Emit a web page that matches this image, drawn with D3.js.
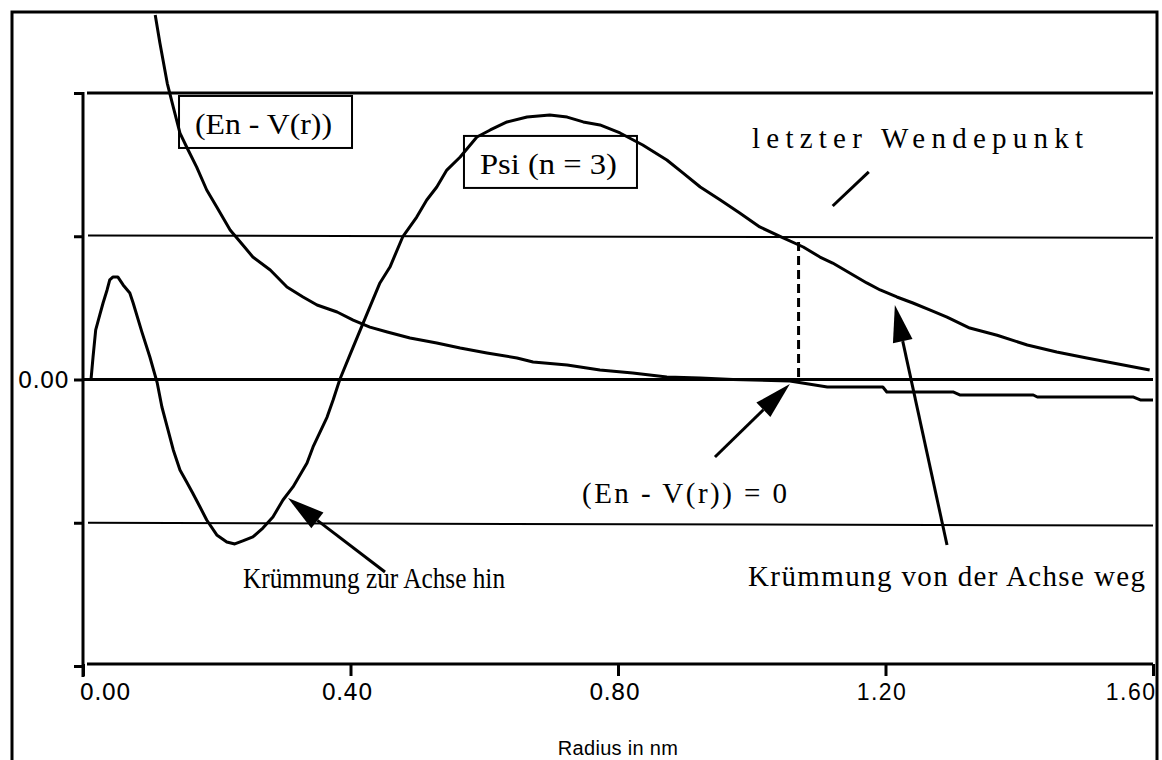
<!DOCTYPE html>
<html>
<head>
<meta charset="utf-8">
<script src="https://cdn.jsdelivr.net/npm/d3@7/dist/d3.min.js"></script>
<style>
	body { margin: 0; background: #fff; }
	svg { display: block; }
	.serif { font-family: 'Liberation Serif', 'Times New Roman', serif; }
</style>
</head>
<body>
<div id="chart"></div>
<script>
// ticks
var radiusTicks = [0, 0.4, 0.8, 1.2, 1.6]
var levelTicks = [-2, -1, 0, 1, 2]

// Psi (n = 3)
var psiR = [0.012, 0.015, 0.019, 0.025, 0.030, 0.036, 0.040, 0.045, 0.052, 0.060, 0.070, 0.075, 0.088, 0.100,
	0.111, 0.118, 0.126, 0.135, 0.145, 0.155, 0.164, 0.175, 0.185, 0.200, 0.215, 0.227, 0.239, 0.254, 0.269,
	0.284, 0.299, 0.314, 0.335, 0.344, 0.365, 0.374, 0.384, 0.399, 0.419, 0.444, 0.459, 0.478, 0.499, 0.514,
	0.529, 0.544, 0.564, 0.589, 0.609, 0.634, 0.664, 0.698, 0.724, 0.748, 0.773, 0.803, 0.837, 0.873, 0.897,
	0.923, 0.953, 0.982, 1.012, 1.047, 1.077, 1.102, 1.121, 1.172, 1.192, 1.217, 1.241, 1.267, 1.292, 1.326,
	1.367, 1.412, 1.456, 1.501, 1.540, 1.595]
var psiVal = [0, 0.157, 0.346, 0.450, 0.534, 0.625, 0.695, 0.716, 0.716, 0.660, 0.604, 0.534, 0.332, 0.157,
	-0.024, -0.192, -0.332, -0.492, -0.632, -0.716, -0.792, -0.890, -0.981, -1.085, -1.134, -1.148, -1.127, -1.099, -1.037,
	-0.960, -0.841, -0.750, -0.583, -0.471, -0.262, -0.143, 0, 0.170, 0.395, 0.674, 0.785, 0.995, 1.134, 1.253,
	1.344, 1.462, 1.553, 1.693, 1.742, 1.798, 1.832, 1.846, 1.832, 1.798, 1.777, 1.721, 1.637, 1.532, 1.442,
	1.344, 1.253, 1.162, 1.065, 0.988, 0.925, 0.855, 0.813, 0.674, 0.625, 0.576, 0.534, 0.485, 0.436, 0.359,
	0.309, 0.241, 0.192, 0.150, 0.115, 0.066]

// En - V(r)
var enR = [0.108, 0.115, 0.126, 0.135, 0.145, 0.155, 0.170, 0.185, 0.200, 0.220, 0.239, 0.254, 0.280, 0.305,
	0.329, 0.350, 0.380, 0.404, 0.429, 0.455, 0.489, 0.529, 0.564, 0.604, 0.649, 0.673, 0.724, 0.773, 0.822,
	0.873, 0.923, 0.972, 1.057, 1.113, 1.196, 1.202, 1.301, 1.311, 1.421, 1.427, 1.570, 1.581, 1.600]
var enVal = [2.545, 2.349, 2.068, 1.902, 1.720, 1.623, 1.483, 1.323, 1.204, 1.044, 0.939, 0.855, 0.764, 0.646,
	0.576, 0.520, 0.471, 0.415, 0.366, 0.332, 0.290, 0.255, 0.220, 0.185, 0.150, 0.122, 0.101, 0.066, 0.045,
	0.017, 0.010, 0.0, -0.01, -0.052, -0.052, -0.087, -0.087, -0.108, -0.108, -0.122, -0.122, -0.143, -0.143]

// horizontal guide lines: value at left end / right end
var guideLeft = [2, 1.005, -1.0]
var guideRight = [2, 0.99, -1.02]

// last turning point
var turnR = 1.07
var turnVal = 0.96

var boxLabels = [
	{ text: '(En - V(r))', r: 0.1675, v: 1.714, len: 137 },
	{ text: 'Psi (n = 3)', r: 0.5936, v: 1.435, len: 137 }
]
var notes = [
	{ text: 'letzter Wendepunkt', r: 1.0004, v: 1.616, len: 331 },
	{ text: '(En - V(r)) = 0', r: 0.7462, v: -0.862, len: 205 },
	{ text: 'Krümmung zur Achse hin', r: 0.2393, v: -1.457, len: 262 },
	{ text: 'Krümmung von der Achse weg', r: 0.9944, v: -1.443, len: 397 }
]
var arrows = [
	{ r0: 0.4516, v0: -1.344, r1: 0.3065, v1: -0.827 },
	{ r0: 0.945, v0: -0.541, r1: 1.057, v1: -0.031 },
	{ r0: 1.292, v0: -1.155, r1: 1.214, v1: 0.520 }
]
var slash = { r0: 1.121, v0: 1.211, r1: 1.175, v1: 1.449 }

var width = 1162
var height = 760

var svg = d3.select('#chart').append('svg')
	.attr('width', width)
	.attr('height', height)

// outer frame (bottom edge runs off the picture)
svg.append('rect')
	.attr('x', 12).attr('y', 12)
	.attr('width', 1145).attr('height', 800)
	.attr('fill', 'none')
	.attr('stroke', '#000')
	.attr('stroke-width', 3)

var xScale = d3.scaleLinear()
	.domain([0, 1.6])
	.range([83, 1153])

var yScale = d3.scaleLinear()
	.domain([-2, 2])
	.range([666, 93])

// y axis
var yAxis = svg.append('g')
	.attr('transform', 'translate(' + xScale(0) + ',0)')
	.call(d3.axisLeft(yScale)
		.tickValues(levelTicks)
		.tickSize(9)
		.tickFormat(function(d) { return d === 0 ? '0.00' : '' }))
yAxis.select('.domain').remove()
yAxis.selectAll('.tick line').attr('stroke-width', 3)
yAxis.selectAll('.tick text')
	.attr('x', -14)
	.attr('dy', '0.36em')
	.style('font-family', 'DejaVu Sans')
	.style('font-size', '23px')
	.attr('fill', '#000')

svg.append('line')
	.attr('x1', xScale(0)).attr('x2', xScale(0))
	.attr('y1', yScale(2) - 1).attr('y2', yScale(-2) + 11)
	.attr('stroke', '#000')
	.attr('stroke-width', 3)

// x axis
var xAxis = svg.append('g')
	.attr('transform', 'translate(0,' + (yScale(-2) - 2) + ')')
	.call(d3.axisBottom(xScale)
		.tickValues(radiusTicks)
		.tickSize(12)
		.tickSizeOuter(0)
		.tickFormat(d3.format('.2f')))
xAxis.select('.domain')
	.attr('d', 'M' + (xScale(0) + 4) + ',0H' + xScale(1.6))
	.attr('stroke-width', 3)
xAxis.selectAll('.tick line').attr('stroke-width', 3)
xAxis.selectAll('.tick text')
	.attr('y', 20)
	.attr('dy', '0.71em')
	.attr('fill', '#000')
	.style('font-size', '23px')
	.style('font-family', function(d, i) { return i < 3 ? 'DejaVu Sans' : 'Liberation Sans' })
	.style('letter-spacing', function(d, i) { return i < 3 ? '0px' : '1.5px' })
	.attr('text-anchor', function(d, i) {
		if (i === 0) return 'start'
		if (i === radiusTicks.length - 1) return 'end'
		return 'middle'
	})
	.attr('x', function(d, i) {
		if (i === 0) return -4
		if (i === radiusTicks.length - 1) return 3
		return -4
	})

svg.append('text')
	.attr('x', xScale(0.8))
	.attr('y', 755)
	.attr('text-anchor', 'middle')
	.style('font-family', 'Liberation Sans')
	.style('font-size', '20px')
	.style('letter-spacing', '0.3px')
	.text('Radius in nm')

// guide lines
svg.append('g').selectAll('line')
	.data(guideLeft)
	.enter().append('line')
	.attr('x1', function(d, i) { return i === 0 ? xScale(0) + 4 : xScale(0) + 5 })
	.attr('x2', xScale(1.6))
	.attr('y1', function(d) { return yScale(d) })
	.attr('y2', function(d, i) { return yScale(guideRight[i]) })
	.attr('stroke', '#000')
	.attr('stroke-width', function(d, i) { return i === 0 ? 3 : 2 })

// zero line
svg.append('line')
	.attr('x1', xScale(0)).attr('x2', xScale(1.6))
	.attr('y1', yScale(0)).attr('y2', yScale(0))
	.attr('stroke', '#000')
	.attr('stroke-width', 3)

var line = d3.line()
	.x(function(d) { return xScale(d[0]) })
	.y(function(d) { return yScale(d[1]) })

// dashed drop line at the last turning point
svg.append('line')
	.attr('x1', xScale(turnR)).attr('x2', xScale(turnR))
	.attr('y1', yScale(turnVal)).attr('y2', yScale(0))
	.attr('stroke', '#000')
	.attr('stroke-width', 3)
	.attr('stroke-dasharray', '9,5')

// boxed labels
boxLabels.forEach(function(b) {
	var tx = xScale(b.r)
	var ty = yScale(b.v)
	svg.append('rect')
		.attr('x', tx - 16)
		.attr('y', ty - 38)
		.attr('width', b.len + 36)
		.attr('height', 52)
		.attr('fill', '#fff')
		.attr('stroke', '#000')
		.attr('stroke-width', 2)
	svg.append('text')
		.attr('class', 'serif')
		.attr('x', tx)
		.attr('y', ty)
		.attr('textLength', b.len)
		.attr('lengthAdjust', 'spacingAndGlyphs')
		.style('font-size', '29px')
		.text(b.text)
})

// curves on top of the boxes
svg.selectAll('path.curve')
	.data([d3.zip(psiR, psiVal), d3.zip(enR, enVal)])
	.enter().append('path')
	.attr('class', 'curve')
	.attr('d', line)
	.attr('fill', 'none')
	.attr('stroke', '#000')
	.attr('stroke-width', 3)
	.attr('stroke-linejoin', 'round')

// notes: widen by spacing, squeeze glyphs only when too long
svg.append('g').selectAll('text')
	.data(notes)
	.enter().append('text')
	.attr('class', 'serif')
	.attr('x', function(d) { return xScale(d.r) })
	.attr('y', function(d) { return yScale(d.v) })
	.style('font-size', '29px')
	.text(function(d) { return d.text })
	.each(function(d) {
		var natural = this.getComputedTextLength()
		d3.select(this)
			.attr('textLength', d.len)
			.attr('lengthAdjust', natural > d.len ? 'spacingAndGlyphs' : 'spacing')
	})

// arrows
arrows.forEach(function(a) {
	var x0 = xScale(a.r0), y0 = yScale(a.v0)
	var x1 = xScale(a.r1), y1 = yScale(a.v1)
	var dx = x1 - x0, dy = y1 - y0
	var len = Math.sqrt(dx * dx + dy * dy)
	var ux = dx / len, uy = dy / len
	var headLen = 37, headW = 10
	var bx = x1 - ux * headLen, by = y1 - uy * headLen
	svg.append('line')
		.attr('x1', x0).attr('y1', y0)
		.attr('x2', bx).attr('y2', by)
		.attr('stroke', '#000')
		.attr('stroke-width', 3)
	svg.append('polygon')
		.attr('points', [
			[x1, y1],
			[bx - uy * headW, by + ux * headW],
			[bx + uy * headW, by - ux * headW]
		].join(' '))
		.attr('fill', '#000')
})

svg.append('line')
	.attr('x1', xScale(slash.r0)).attr('y1', yScale(slash.v0))
	.attr('x2', xScale(slash.r1)).attr('y2', yScale(slash.v1))
	.attr('stroke', '#000')
	.attr('stroke-width', 3)
</script>
</body>
</html>
